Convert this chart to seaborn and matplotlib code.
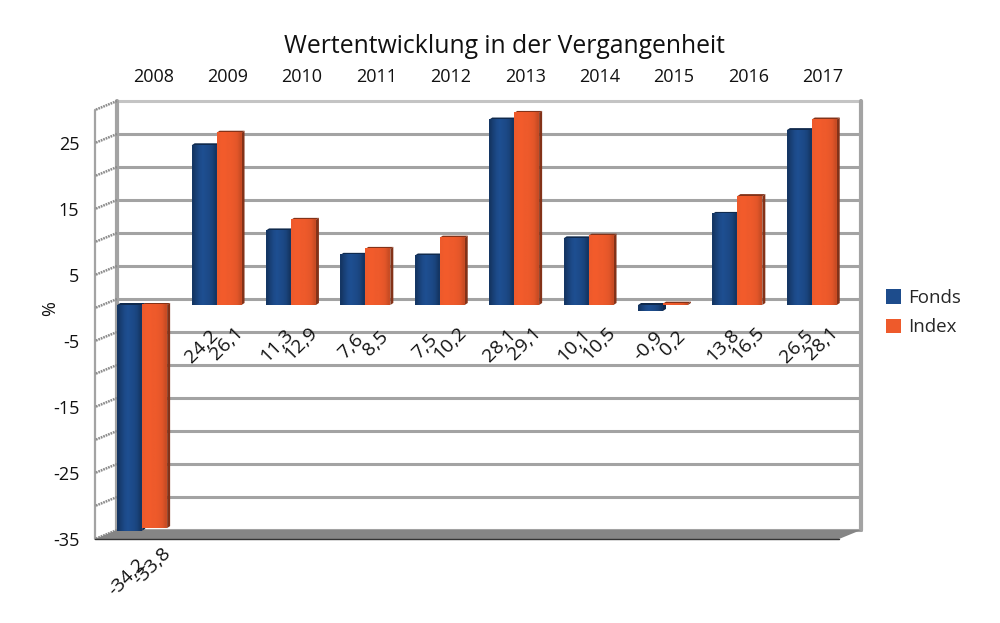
import numpy as np
import pandas as pd
import matplotlib
matplotlib.use('Agg')
import matplotlib.pyplot as plt
from matplotlib.patches import Polygon
from matplotlib.transforms import Affine2D, IdentityTransform
from matplotlib.colors import to_rgb
import seaborn as sns

years = ['2008', '2009', '2010', '2011', '2012', '2013', '2014', '2015', '2016', '2017']
fonds = [-34.2, 24.2, 11.3, 7.6, 7.5, 28.1, 10.1, -0.9, 13.8, 26.5]
index = [-33.8, 26.1, 12.9, 8.5, 10.2, 29.1, 10.5, 0.2, 16.5, 28.1]
grid_values = list(range(-35, 31, 5))
tick_values = [-35, -25, -15, -5, 5, 15, 25]

BLUE = '#1d4c8c'
ORANGE = '#ee5a2b'
GRID = '#a3a3a3'

sns.set_theme(style='white')
plt.rcParams['font.family'] = ['Open Sans', 'DejaVu Sans']

df = pd.DataFrame({'Jahr': years * 2,
                   'Wert': fonds + index,
                   'Serie': ['Fonds'] * 10 + ['Index'] * 10})

fig = plt.figure(figsize=(10, 6.23), dpi=100)
ax = fig.add_axes([0.105, 87 / 623, 0.744, 429 / 623])

sns.barplot(data=df, x='Jahr', y='Wert', hue='Serie', palette=[BLUE, ORANGE],
            width=0.67, saturation=1, errorbar=None, ax=ax, zorder=3, linewidth=0)

ax.set_xlim(-0.5, 9.5)
ax.set_ylim(-35, 30)
sns.despine(ax=ax, left=True, bottom=True)
ax.spines['top'].set_visible(False)

bars = [p for c in ax.containers for p in c]

# pseudo 3d: back wall and front edge are the plot shifted by some pixels
back = ax.transData + Affine2D().translate(12, 6)
front = ax.transData + Affine2D().translate(-10, -3)

# back wall grid
for v in grid_values:
    col = '#c4c4c4' if v == 30 else GRID
    ax.plot([-0.5, 9.5], [v, v], color=col, lw=2.2, transform=back, clip_on=False, zorder=1)
ax.plot([-0.5, -0.5], [-35, 30], color=GRID, lw=3, transform=back, clip_on=False, zorder=1)
ax.plot([9.5, 9.5], [-35, 30], color=GRID, lw=3, transform=back, clip_on=False, zorder=1)

# left wall
ax.plot([-0.5, -0.5], [-35, 30], color=GRID, lw=1.6, transform=front, clip_on=False, zorder=1)
for v in grid_values:
    p0 = back.transform((-0.5, v))
    p1 = front.transform((-0.5, v))
    ax.plot([p0[0], p1[0]], [p0[1], p1[1]], color='#8c8c8c', lw=1.8, ls=(0, (0.7, 0.35)),
            transform=IdentityTransform(), clip_on=False, zorder=1)

# floor
corners = [back.transform((-0.5, -35)), back.transform((9.5, -35)),
           front.transform((9.5, -35)), front.transform((-0.5, -35))]
ax.add_patch(Polygon(corners, closed=True, facecolor='#858585', edgecolor='none',
                     transform=IdentityTransform(), clip_on=False, zorder=2))
ax.plot([corners[3][0], corners[2][0]], [corners[3][1], corners[2][1]], color='#333333', lw=1,
        transform=IdentityTransform(), clip_on=False, zorder=2)

# bars: shading, side and top faces taken from the seaborn patches
shade_blue = np.array([0.72, 0.86, 0.98, 1.04, 1.0, 0.96, 0.88, 0.72])
shade_orange = np.array([1.0, 1.02, 1.02, 1.0, 1.0, 0.98, 0.95, 0.85])
for b in bars:
    x0, w = b.get_x(), b.get_width()
    y0, h = b.get_y(), b.get_height()
    base = np.array(to_rgb(b.get_facecolor()))
    dark = base * 0.55
    shade = shade_orange if base[0] > 0.5 else shade_blue
    img = np.clip(np.outer(shade, base), 0, 1)
    ax.imshow(img[np.newaxis, :, :], extent=[x0, x0 + w, min(y0, y0 + h), max(y0, y0 + h)],
              aspect='auto', interpolation='bilinear', zorder=3.1)
    a = ax.transData.transform((x0 + w, y0))
    c = ax.transData.transform((x0 + w, y0 + h))
    d = ax.transData.transform((x0, y0 + h))
    top = max(a[1], c[1])
    low = min(a[1], c[1])
    left = d[0]
    right = a[0]
    ax.add_patch(Polygon([(right, low), (right + 3, low + 2), (right + 3, top + 2), (right, top)],
                         closed=True, facecolor=dark, edgecolor='none',
                         transform=IdentityTransform(), clip_on=False, zorder=3))
    ax.add_patch(Polygon([(left, top), (left + 3, top + 2), (right + 3, top + 2), (right, top)],
                         closed=True, facecolor=dark, edgecolor='none',
                         transform=IdentityTransform(), clip_on=False, zorder=3))

ax.set_xlim(-0.5, 9.5)
ax.set_ylim(-35, 30)

# rotated value labels
for i, (b, v) in enumerate(zip(bars, fonds + index)):
    xc = b.get_x() + b.get_width() / 2 - 0.03
    first = i < len(fonds)
    if v < -30:
        yc = -41.2 if first else -39.6
    else:
        yc = -6.2 if first else -5.8
    ax.text(xc, yc, f'{v:.1f}'.replace('.', ','), rotation=45, ha='center', va='center',
            rotation_mode='anchor', fontsize=14, color='#111111', clip_on=False, zorder=5)

# year labels on top, y labels shifted like in the original
ax.xaxis.tick_top()
ax.set_xticks(range(len(years)))
ax.set_xticklabels(years, fontsize=13, color='#111111')
ax.tick_params(axis='x', length=0, pad=15)
for lab in ax.get_xticklabels():
    lab.set_transform(lab.get_transform() + Affine2D().translate(11, 0))
ax.set_xlabel('')

ax.set_yticks(tick_values)
ax.set_yticklabels([str(t) for t in tick_values], fontsize=13, color='#111111')
ax.tick_params(axis='y', length=0, pad=18.5)
for lab in ax.get_yticklabels():
    lab.set_transform(lab.get_transform() + Affine2D().translate(0, -3))
ax.set_ylabel('')
fig.text(0.05, 0.505, '%', rotation=90, ha='center', va='center', fontsize=13, color='#111111')

fig.text(0.505, 0.925, 'Wertentwicklung in der Vergangenheit', ha='center', va='center',
         fontsize=17.8, color='#111111')

handles, labels = ax.get_legend_handles_labels()
ax.legend(handles[:2], labels[:2], loc='center left', bbox_to_anchor=(0.886, 0.498),
          bbox_transform=fig.transFigure, frameon=False, fontsize=13.5,
          handlelength=0.8, handleheight=0.8, handletextpad=0.4, labelspacing=0.6,
          borderpad=0, borderaxespad=0)

fig.savefig('out.png', dpi=100)
